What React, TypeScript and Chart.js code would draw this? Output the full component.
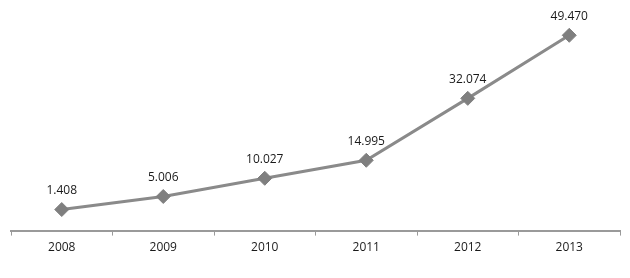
import React, { useEffect, useRef } from "react";
import { Chart, registerables } from "chart.js";

Chart.register(...registerables);

const categories = ["2008", "2009", "2010", "2011", "2012", "2013"];
const values = [1.408, 5.006, 10.027, 14.995, 32.074, 49.47];
const valueLabels = ["1.408", "5.006", "10.027", "14.995", "32.074", "49.470"];

const labelPlugin = {
  id: "valueLabels",
  afterDatasetsDraw(chart: any) {
    const ctx = chart.ctx;
    const meta = chart.getDatasetMeta(0);
    ctx.save();
    ctx.font = "12px 'Open Sans', sans-serif";
    ctx.fillStyle = "#1a1a1a";
    ctx.textAlign = "center";
    ctx.textBaseline = "middle";
    meta.data.forEach((pt: any, i: number) => {
      ctx.fillText(valueLabels[i], pt.x, pt.y - 19);
    });
    ctx.restore();
  },
};

export default function App() {
  const ref = useRef<HTMLCanvasElement>(null);
  useEffect(() => {
    const chart = new Chart(ref.current!, {
      type: "line",
      data: {
        labels: categories,
        datasets: [
          {
            data: values,
            borderColor: "#8a8a8a",
            borderWidth: 3,
            pointStyle: "rectRot",
            pointRadius: 7,
            pointBackgroundColor: "#7f7f7f",
            pointBorderColor: "#7f7f7f",
            pointBorderWidth: 1,
            tension: 0,
          },
        ],
      },
      options: {
        animation: false,
        responsive: false,
        maintainAspectRatio: false,
        layout: { padding: { left: 11, right: 10, top: 0, bottom: 0 } },
        plugins: { legend: { display: false }, tooltip: { enabled: false } },
        scales: {
          x: {
            offset: true,
            grid: {
              offset: true,
              drawOnChartArea: false,
              drawTicks: true,
              tickLength: 5,
              color: "#9a9a9a",
              lineWidth: 1,
            },
            border: { display: true, color: "#9a9a9a", width: 2 },
            ticks: {
              color: "#1a1a1a",
              font: { family: "'Open Sans', sans-serif", size: 12 },
              padding: 5,
            },
          },
          y: {
            display: false,
            min: -4.4,
            max: 57,
          },
        },
      },
      plugins: [labelPlugin],
    });
    return () => chart.destroy();
  }, []);
  return (
    <div style={{ position: "fixed", left: 0, top: 0, width: 630, height: 278, background: "#fff" }}>
      <canvas ref={ref} width={630} height={260} style={{ display: "block" }} />
    </div>
  );
}
